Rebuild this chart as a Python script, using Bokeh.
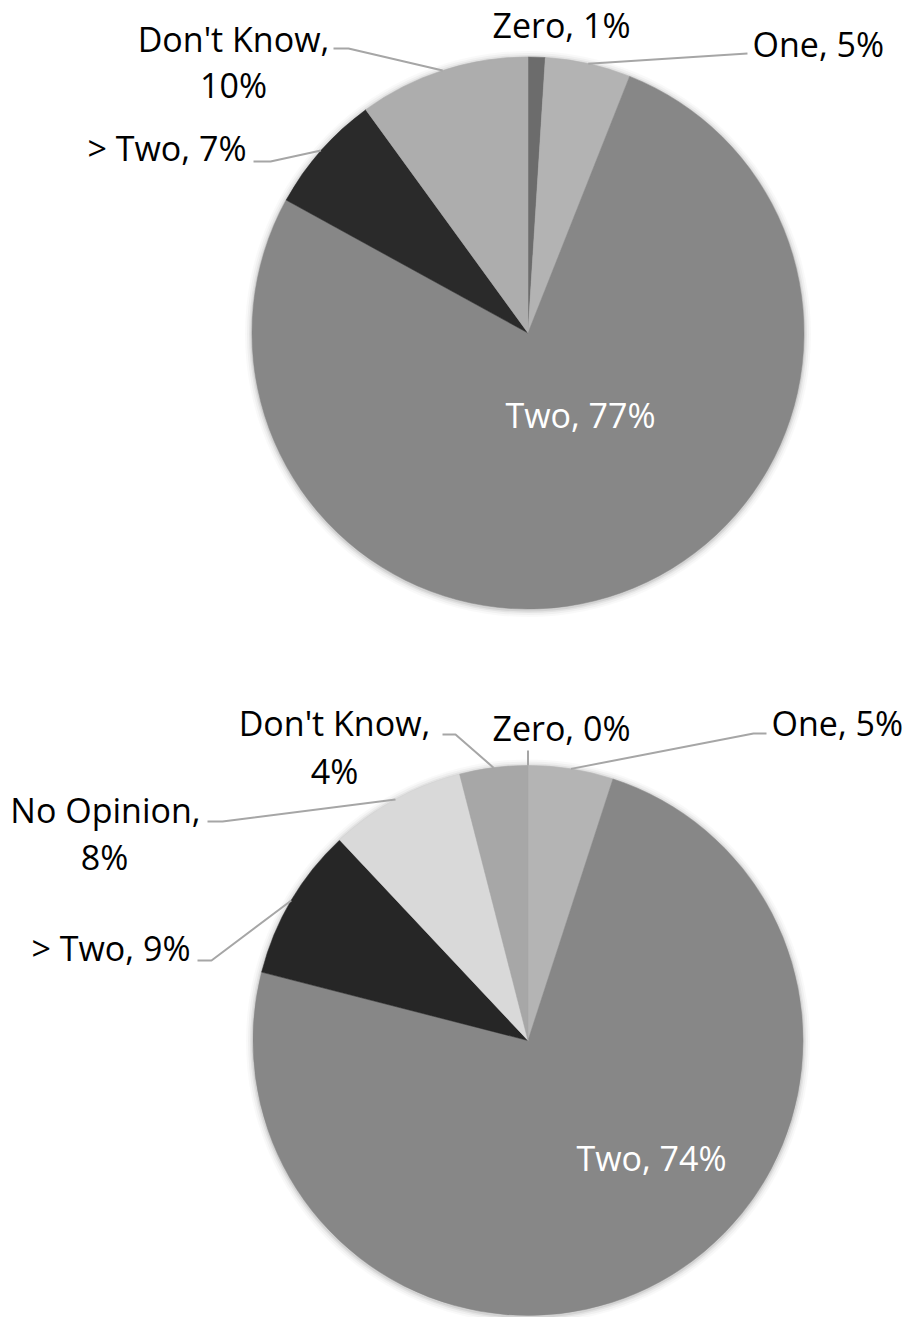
import numpy as np
from bokeh.plotting import figure
from bokeh.models import Range1d
from bokeh.core.properties import value
from bokeh.embed import file_html
from bokeh.resources import INLINE

# ---------------- data ----------------
top_categories = ["Zero", "One", "Two", "> Two", "Don't Know"]
top_values = [1, 5, 77, 7, 10]
top_colors = ["#6c6c6c", "#b3b3b3", "#878787", "#2a2a2a", "#adadad"]

bottom_categories = ["Zero", "One", "Two", "> Two", "No Opinion", "Don't Know"]
bottom_values = [0, 5, 74, 9, 8, 4]
bottom_colors = ["#6c6c6c", "#b4b4b4", "#878787", "#262626", "#d9d9d9", "#a7a7a7"]

# ---------------- layout (picture pixel coords) ----------------
W, H = 906, 1317
PAGE_H = 1325  # data y = PAGE_H - pixel y
TEXT_SHIFT = -11  # text baseline correction


def Y(py):
    return PAGE_H - py


pies = [
    dict(cats=top_categories, vals=top_values, cols=top_colors, cx=527.5, cy=332.5, r=276,
         labels={
             "Zero": dict(lines=[(561, 35, "center")], leader=None),
             "One": dict(lines=[(752, 54, "left")], leader=[(747, 53)]),
             "Two": dict(lines=[(580, 425, "center")], leader=None, inside=True),
             "> Two": dict(lines=[(246, 158, "right")], leader=[(270, 161), (253, 161)]),
             "Don't Know": dict(lines=[(233, 49, "center"), (233, 95, "center")],
                                leader=[(348, 48), (333, 48)]),
         }),
    dict(cats=bottom_categories, vals=bottom_values, cols=bottom_colors, cx=527.5, cy=1040, r=275,
         labels={
             "Zero": dict(lines=[(561, 738, "center")], leader=[(527.5, 750)]),
             "One": dict(lines=[(771, 733, "left")], leader=[(753, 733), (766, 733)]),
             "Two": dict(lines=[(651, 1168, "center")], leader=None, inside=True),
             "> Two": dict(lines=[(190, 958, "right")], leader=[(211, 960), (197, 960)]),
             "No Opinion": dict(lines=[(105, 820, "center"), (104, 867, "center")],
                                leader=[(222, 821), (207, 821)]),
             "Don't Know": dict(lines=[(334, 733, "center"), (334, 781, "center")],
                                leader=[(455, 734), (442, 734)]),
         }),
]

p = figure(width=W, height=H, x_range=Range1d(0, W), y_range=Range1d(PAGE_H - H, PAGE_H),
           output_backend="svg", toolbar_location=None, min_border=0)
p.axis.visible = False
p.grid.visible = False
p.outline_line_color = None
p.background_fill_color = "white"
p.border_fill_color = "white"

FONT = value("Open Sans")
FS = "34px"

for pie in pies:
    vals = np.array(pie["vals"], dtype=float)
    frac = vals / vals.sum()
    cum = np.concatenate([[0], np.cumsum(frac)])
    a0 = cum[:-1] * 2 * np.pi  # clockwise from top
    a1 = cum[1:] * 2 * np.pi
    cx, cy, r = pie["cx"], pie["cy"], pie["r"]

    # soft shadow
    for k, al in [(7, 0.025), (5, 0.035), (3, 0.05), (1.5, 0.07)]:
        p.circle(x=[cx], y=[Y(cy) - 1], radius=r + k, fill_color="black", fill_alpha=al, line_color=None)

    keep = vals > 0
    p.wedge(x=cx, y=Y(cy), radius=r,
            start_angle=list(np.pi / 2 - a0[keep]), end_angle=list(np.pi / 2 - a1[keep]),
            direction="clock", fill_color=[c for c, k in zip(pie["cols"], keep) if k],
            line_color=[c for c, k in zip(pie["cols"], keep) if k], line_width=0.5)

    xs, ys = [], []
    for i, cat in enumerate(pie["cats"]):
        lab = pie["labels"][cat]
        mid = (a0[i] + a1[i]) / 2
        ex, ey = cx + r * np.sin(mid), cy - r * np.cos(mid)
        if lab.get("leader"):
            pts = [(ex, ey)] + lab["leader"]
            xs.append([q[0] for q in pts])
            ys.append([Y(q[1]) for q in pts])
        if len(lab["lines"]) == 2:
            parts = [f"{cat},", f"{pie['vals'][i]}%"]
        else:
            parts = [f"{cat}, {pie['vals'][i]}%"]
        color = "white" if lab.get("inside") else "black"
        for (lx, ly, al), t in zip(lab["lines"], parts):
            p.text(x=[lx], y=[Y(ly + TEXT_SHIFT)], text=[t], text_align=al, text_baseline="alphabetic",
                   text_font=FONT, text_font_size=FS, text_color=color)
    if xs:
        p.multi_line(xs=xs, ys=ys, line_color="#a6a6a6", line_width=2)

open("out.html", "w").write(file_html(p, INLINE))
